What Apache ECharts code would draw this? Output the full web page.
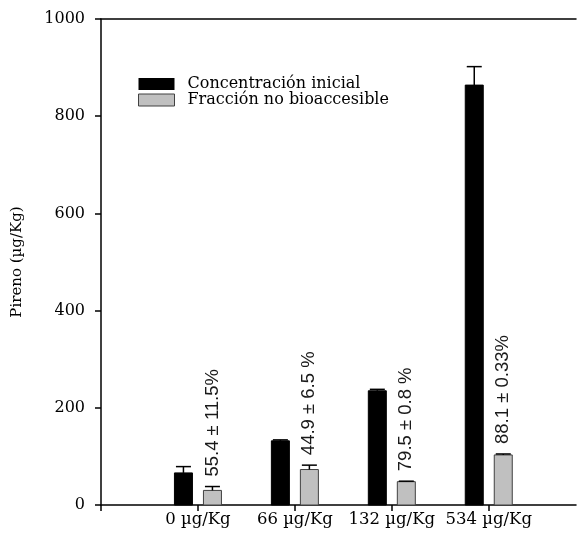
<!DOCTYPE html>
<html>
<head>
<meta charset="utf-8">
<script src="https://cdn.jsdelivr.net/npm/echarts@6/dist/echarts.min.js"></script>
<style>
  html, body { margin: 0; padding: 0; background: #fff; }
  #chart { width: 579px; height: 536px; }
</style>
</head>
<body>
<div id="chart"></div>
<script>
// Spiked soil levels on the category axis
const categories = ['0 µg/Kg', '66 µg/Kg', '132 µg/Kg', '534 µg/Kg'];
// Initial pyrene concentration (mean and SD, µg/Kg)
const initialConc = [66, 132, 235, 864];
const initialErr = [13, 2, 3, 38];
// Non-bioaccessible fraction (mean and SD, µg/Kg)
const residualConc = [30, 73, 48, 103];
const residualErr = [8, 9, 1, 2];
// Percent of non-bioaccessible pyrene written above each grey bar
const percentLabels = ['55.4 ± 11.5%', '44.9 ± 6.5 %', '79.5 ± 0.8 %', '88.1 ± 0.33%'];
// Y axis ticks
const yTicks = [0, 200, 400, 600, 800, 1000];

const SERIF = '"DejaVu Serif", "Liberation Serif", serif';
const SANS = '"Liberation Sans", Arial, sans-serif';
const BAR_W = 18;
const BAR_SHIFT = 14.5;
const CAP_W = 15;
const LABEL_GAP = 10;

const positions = categories.map((c, i) => i + 1);

function barRenderer(shift, fill, stroke) {
  return function (params, api) {
    const x = api.value(0), v = api.value(1), e = api.value(2);
    const base = api.coord([x, 0]);
    const top = api.coord([x, v]);
    const cap = api.coord([x, v + e]);
    const cx = base[0] + shift;
    const children = [{
      type: 'rect',
      shape: { x: cx - BAR_W / 2, y: top[1], width: BAR_W, height: base[1] - top[1] },
      style: { fill: fill, stroke: stroke, lineWidth: 1 }
    }];
    if (e > 0) {
      children.push(
        { type: 'line', shape: { x1: cx, y1: top[1], x2: cx, y2: cap[1] },
          style: { stroke: '#000', lineWidth: 1.5 } },
        { type: 'line', shape: { x1: cx - CAP_W / 2, y1: cap[1], x2: cx + CAP_W / 2, y2: cap[1] },
          style: { stroke: '#000', lineWidth: 1.5 } }
      );
    }
    return { type: 'group', children: children };
  };
}

function labelRenderer(params, api) {
  const i = params.dataIndex;
  const x = api.value(0), v = api.value(1), e = api.value(2);
  const p = api.coord([x, v + e]);
  return {
    type: 'text',
    x: p[0] + BAR_SHIFT,
    y: p[1] - LABEL_GAP,
    rotation: Math.PI / 2,
    style: {
      text: percentLabels[i],
      font: '18.5px ' + SANS,
      fill: '#1a1a1a',
      align: 'left',
      verticalAlign: 'middle'
    }
  };
}

const chart = echarts.init(document.getElementById('chart'), null, { renderer: 'canvas' });

const axisLineStyle = { color: '#000', width: 1.5 };

chart.setOption({
  animation: false,
  backgroundColor: '#fff',
  grid: { left: 101, right: 3, top: 19, bottom: 31, outerBoundsMode: 'none' },
  legend: {
    orient: 'vertical',
    left: 138,
    top: 76,
    padding: 0,
    itemWidth: 36,
    itemHeight: 12,
    itemGap: 0,
    icon: 'rect',
    selectedMode: false,
    textStyle: { fontFamily: SERIF, fontSize: 16, color: '#000', padding: [0, 0, 0, 8], lineHeight: 16 },
    data: [
      { name: 'Concentración inicial', itemStyle: { color: '#000', borderWidth: 0 } },
      { name: 'Fracción no bioaccesible', itemStyle: { color: '#c0c0c0', borderColor: '#404040', borderWidth: 1 } }
    ]
  },
  xAxis: [{
    type: 'value',
    position: 'bottom',
    min: 0,
    max: 4.9,
    interval: 1,
    axisLine: { show: true, onZero: false, lineStyle: axisLineStyle },
    axisTick: { show: true, inside: false, length: 6, customValues: [0].concat(positions), lineStyle: axisLineStyle },
    axisLabel: {
      show: true,
      customValues: positions,
      formatter: v => categories[Math.round(v) - 1] || '',
      fontFamily: SERIF,
      fontSize: 16.5,
      color: '#000',
      margin: 6
    },
    splitLine: { show: false }
  }, {
    type: 'value',
    position: 'top',
    min: 0,
    max: 4.9,
    axisLine: { show: true, onZero: false, lineStyle: axisLineStyle },
    axisTick: { show: false },
    axisLabel: { show: false },
    splitLine: { show: false }
  }],
  yAxis: {
    type: 'value',
    min: yTicks[0],
    max: yTicks[yTicks.length - 1],
    interval: yTicks[1] - yTicks[0],
    name: 'Pireno (µg/Kg)',
    nameLocation: 'middle',
    nameGap: 76,
    nameTextStyle: { fontFamily: SERIF, fontSize: 15, color: '#000' },
    axisLine: { show: true, onZero: false, lineStyle: axisLineStyle },
    axisTick: { show: true, inside: false, length: 6, lineStyle: axisLineStyle },
    axisLabel: { fontFamily: SERIF, fontSize: 16, color: '#000', margin: 16, formatter: v => String(v) },
    splitLine: { show: false }
  },
  series: [{
    name: 'Concentración inicial',
    type: 'custom',
    itemStyle: { color: '#000' },
    renderItem: barRenderer(-BAR_SHIFT, '#000', '#000'),
    data: positions.map((x, i) => [x, initialConc[i], initialErr[i]]),
    z: 3
  }, {
    name: 'Fracción no bioaccesible',
    type: 'custom',
    itemStyle: { color: '#c0c0c0' },
    renderItem: barRenderer(BAR_SHIFT, '#c0c0c0', '#404040'),
    data: positions.map((x, i) => [x, residualConc[i], residualErr[i]]),
    z: 3
  }, {
    name: 'percent',
    type: 'custom',
    renderItem: labelRenderer,
    data: positions.map((x, i) => [x, residualConc[i], residualErr[i]]),
    silent: true,
    z: 4
  }]
});
</script>
</body>
</html>
